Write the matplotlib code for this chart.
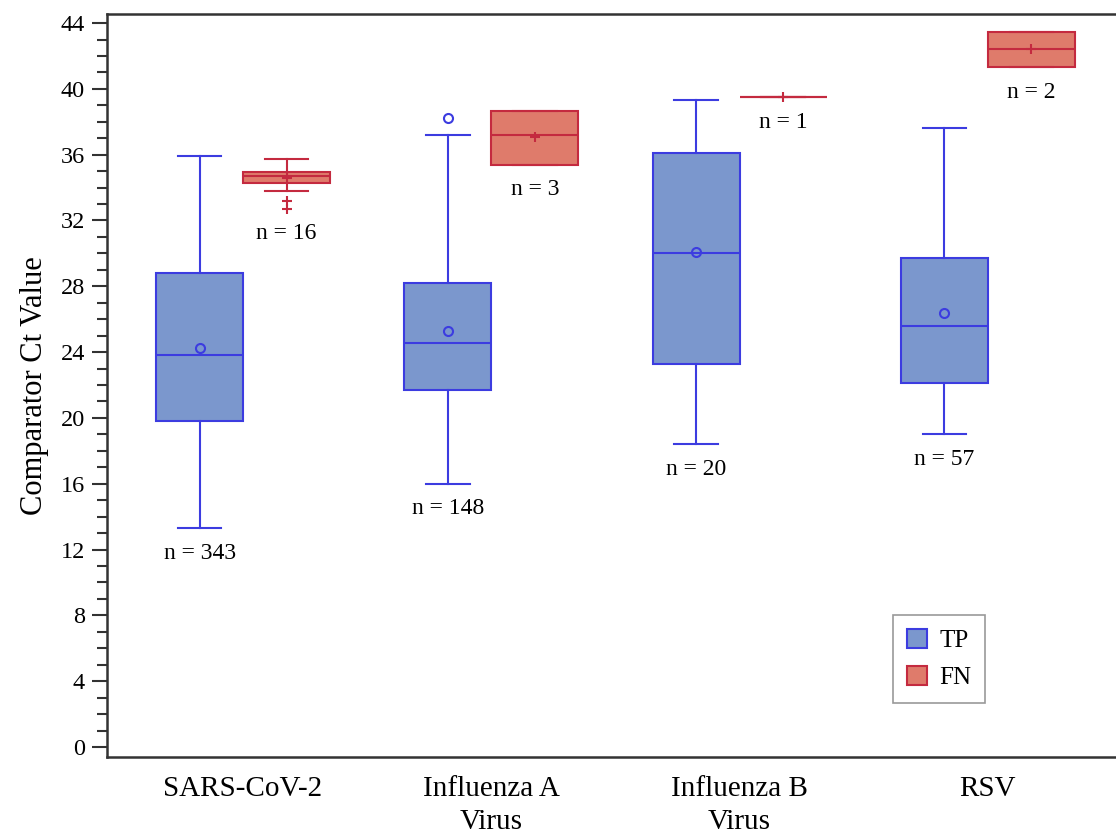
import matplotlib
matplotlib.use("Agg")
import matplotlib.pyplot as plt
from matplotlib.patches import Patch
from matplotlib.ticker import MultipleLocator

plt.rcParams["font.family"] = ["Liberation Serif", "DejaVu Serif"]

categories = ["SARS-CoV-2", "Influenza A\nVirus", "Influenza B\nVirus", "RSV"]

# TP (true positive) box statistics
tp_whislo = [13.3, 16.0, 18.4, 19.0]
tp_q1 = [19.8, 21.7, 23.3, 22.1]
tp_med = [23.8, 24.55, 30.0, 25.6]
tp_mean = [24.25, 25.3, 30.1, 26.4]
tp_q3 = [28.8, 28.2, 36.1, 29.7]
tp_whishi = [35.9, 37.2, 39.3, 37.6]
tp_fliers = [[], [38.2], [], []]
tp_n = [343, 148, 20, 57]

# FN (false negative) box statistics
fn_whislo = [33.8, 35.4, 39.5, 41.3]
fn_q1 = [34.3, 35.4, 39.5, 41.3]
fn_med = [34.7, 37.2, 39.5, 42.4]
fn_mean = [34.6, 37.1, 39.5, 42.4]
fn_q3 = [34.95, 38.65, 39.5, 43.45]
fn_whishi = [35.75, 38.65, 39.5, 43.45]
fn_fliers = [[33.2, 32.7], [], [], []]
fn_n = [16, 3, 1, 2]

tp_fill, tp_edge = "#7b97cd", "#3c3ce0"
fn_fill, fn_edge = "#df7b6b", "#c42a3f"


def make_stats(lo, q1, med, mean, q3, hi, fl):
    out = []
    for i in range(len(lo)):
        out.append(dict(whislo=lo[i], q1=q1[i], med=med[i], mean=mean[i],
                        q3=q3[i], whishi=hi[i], fliers=fl[i]))
    return out


fig = plt.figure(figsize=(11.16, 8.33), dpi=100)
ax = fig.add_axes([107/1116, 1 - 757/833, 1 - 107/1116, (757 - 14)/833])

pos = list(range(len(categories)))
off = 0.175
w = 0.35

def draw(stats, positions, fill, edge, mean_marker, flier_marker):
    ax.bxp(stats, positions=positions, widths=w, patch_artist=True,
           showmeans=True, showfliers=True,
           boxprops=dict(facecolor=fill, edgecolor=edge, linewidth=1.5),
           medianprops=dict(color=edge, linewidth=1.5),
           whiskerprops=dict(color=edge, linewidth=1.5),
           capprops=dict(color=edge, linewidth=1.5),
           capwidths=w / 2,
           meanprops=dict(marker=mean_marker, markeredgecolor=edge,
                          markerfacecolor="none", markersize=6.5,
                          markeredgewidth=1.5),
           flierprops=dict(marker=flier_marker, markeredgecolor=edge,
                           markerfacecolor="none", markersize=6.5,
                           markeredgewidth=1.5))

tp_pos = [p - off for p in pos]
fn_pos = [p + off for p in pos]
draw(make_stats(tp_whislo, tp_q1, tp_med, tp_mean, tp_q3, tp_whishi, tp_fliers),
     tp_pos, tp_fill, tp_edge, "o", "o")
draw(make_stats(fn_whislo, fn_q1, fn_med, fn_mean, fn_q3, fn_whishi, fn_fliers),
     fn_pos, fn_fill, fn_edge, "+", "+")

# n labels below the lowest point of each group
for i in pos:
    lo = min([tp_whislo[i]] + tp_fliers[i])
    ax.annotate(f"n = {tp_n[i]}", (tp_pos[i], lo), xytext=(0, -18),
                textcoords="offset points", ha="center", va="center",
                fontsize=17)
    lo = min([fn_whislo[i]] + fn_fliers[i])
    ax.annotate(f"n = {fn_n[i]}", (fn_pos[i], lo), xytext=(0, -18),
                textcoords="offset points", ha="center", va="center",
                fontsize=17)

ax.set_xlim(-0.548, 3.516)
ax.set_ylim(-0.61, 44.55)
ax.set_xticks(pos)
ax.set_xticklabels(categories, fontsize=21, linespacing=1.35)
ax.tick_params(axis="x", length=0, pad=14)
ax.yaxis.set_major_locator(MultipleLocator(4))
ax.yaxis.set_minor_locator(MultipleLocator(1))
ax.tick_params(axis="y", which="major", length=11, width=1.5,
               labelsize=17.5, direction="out", color="#333333", pad=5)
ax.tick_params(axis="y", which="minor", length=7, width=1.5,
               direction="out", color="#333333")
ax.set_ylabel("Comparator Ct Value", fontsize=22, labelpad=8)

for s in ["left", "bottom", "top"]:
    ax.spines[s].set_linewidth(1.8)
    ax.spines[s].set_color("#333333")
ax.spines["right"].set_visible(False)

handles = [Patch(facecolor=tp_fill, edgecolor=tp_edge, linewidth=1.5, label="TP"),
           Patch(facecolor=fn_fill, edgecolor=fn_edge, linewidth=1.5, label="FN")]
leg = ax.legend(handles=handles, loc="lower right", bbox_to_anchor=(0.870, 0.0727),
                borderaxespad=0, fontsize=18, handlelength=0.8, handleheight=0.8,
                handletextpad=0.5, borderpad=0.55, labelspacing=0.55,
                fancybox=False, edgecolor="#999999", framealpha=1)
leg.get_frame().set_linewidth(1.2)

fig.savefig("out.png", dpi=100)
